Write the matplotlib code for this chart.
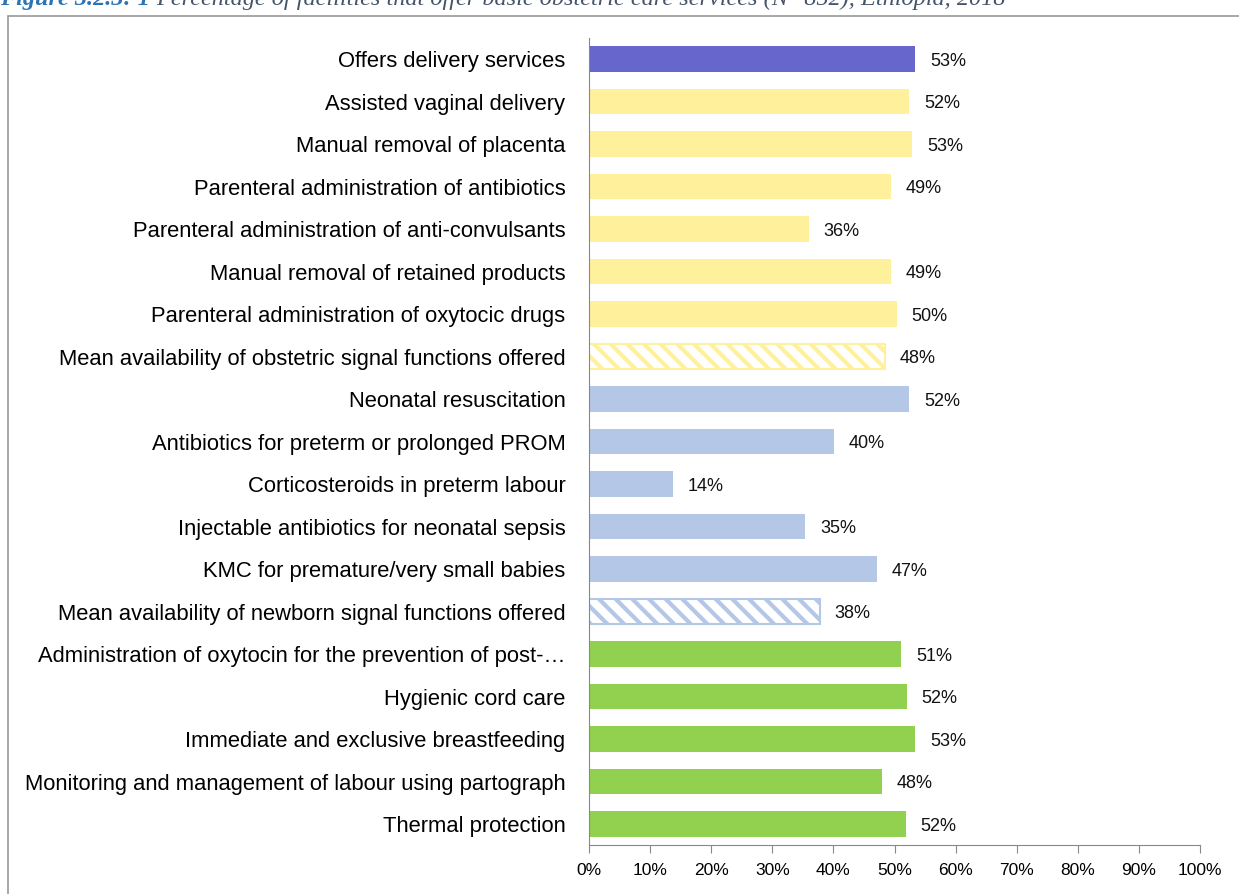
import matplotlib.pyplot as plt
from matplotlib.patches import Rectangle

# categories top to bottom
cats = ['Offers delivery services',
        'Assisted vaginal delivery',
        'Manual removal of placenta',
        'Parenteral administration of antibiotics',
        'Parenteral administration of anti-convulsants',
        'Manual removal of retained products',
        'Parenteral administration of oxytocic drugs',
        'Mean availability of obstetric signal functions offered',
        'Neonatal resuscitation',
        'Antibiotics for preterm or prolonged PROM',
        'Corticosteroids in preterm labour',
        'Injectable antibiotics for neonatal sepsis',
        'KMC for premature/very small babies',
        'Mean availability of newborn signal functions offered',
        'Administration of oxytocin for the prevention of post-\u2026',
        'Hygienic cord care',
        'Immediate and exclusive breastfeeding',
        'Monitoring and management of labour using partograph',
        'Thermal protection']
vals = [53.4, 52.4, 52.9, 49.4, 36.0, 49.4, 50.4, 48.4, 52.4, 40.1, 13.7,
        35.4, 47.1, 37.8, 51.1, 52.0, 53.4, 48.0, 51.9]
labels = ['53%', '52%', '53%', '49%', '36%', '49%', '50%', '48%', '52%', '40%',
          '14%', '35%', '47%', '38%', '51%', '52%', '53%', '48%', '52%']
groups = ['d', 'y', 'y', 'y', 'y', 'y', 'y', 'yh', 'b', 'b', 'b', 'b', 'b', 'bh',
          'g', 'g', 'g', 'g', 'g']

cols = {'d': '#6666CC', 'y': '#FFF09C', 'b': '#B4C7E7', 'g': '#92D050'}

plt.rcParams['font.family'] = ['Liberation Sans', 'DejaVu Sans']
plt.rcParams['hatch.linewidth'] = 3.0

fig = plt.figure(figsize=(12.39, 8.94), dpi=100)
ax = fig.add_axes([589/1239, 1-845.25/894, 611/1239, (845.25-37.75)/894])

ypos = list(range(len(cats)))
for y, v, g in zip(ypos, vals, groups):
    c = cols[g[0]]
    if g.endswith('h'):
        plt.rcParams['hatch.color'] = c
        ax.barh(y, v, height=0.61, color='white', edgecolor=c, hatch='\\\\', linewidth=1.5)
    else:
        ax.barh(y, v, height=0.61, color=c)

for y, v, t in zip(ypos, vals, labels):
    ax.text(v + 2.4, y, t, va='center_baseline', ha='left', fontsize=13, color='#111111')

ax.set_ylim(len(cats) - 0.5, -0.5)
ax.set_xlim(0, 100)
ax.set_yticks(ypos)
ax.set_yticklabels(cats, fontsize=15.8)
ax.set_xticks(range(0, 101, 10))
ax.set_xticklabels([f'{i}%' for i in range(0, 101, 10)], fontsize=12.5)
ax.tick_params(axis='y', length=0, pad=17)
ax.tick_params(axis='x', length=6, color='#888888', pad=7)
for s in ['top', 'right']:
    ax.spines[s].set_visible(False)
ax.spines['left'].set_color('#888888')
ax.spines['bottom'].set_color('#888888')

# outer frame
fig.patches.append(Rectangle((8/1239, -0.1), 1.2, 1 - 16/894 + 0.1,
                             transform=fig.transFigure, fill=False,
                             edgecolor='#999999', linewidth=1.2))

# cut-off caption at top
t1 = fig.text(0.0, 1 - 5/894, 'Figure 3.2.3: 1 ', fontsize=17.5, style='italic', weight='bold',
              color='#2E74B5', family='Liberation Serif', va='baseline')
fig.canvas.draw()
bb = t1.get_window_extent(fig.canvas.get_renderer())
fig.text(bb.x1 / fig.bbox.width, 1 - 5/894,
         'Percentage of facilities that offer basic obstetric care services (N=852), Ethiopia, 2018',
         fontsize=17.5, style='italic', color='#44546A', family='Liberation Serif', va='baseline')

fig.savefig('out.png', dpi=100)
